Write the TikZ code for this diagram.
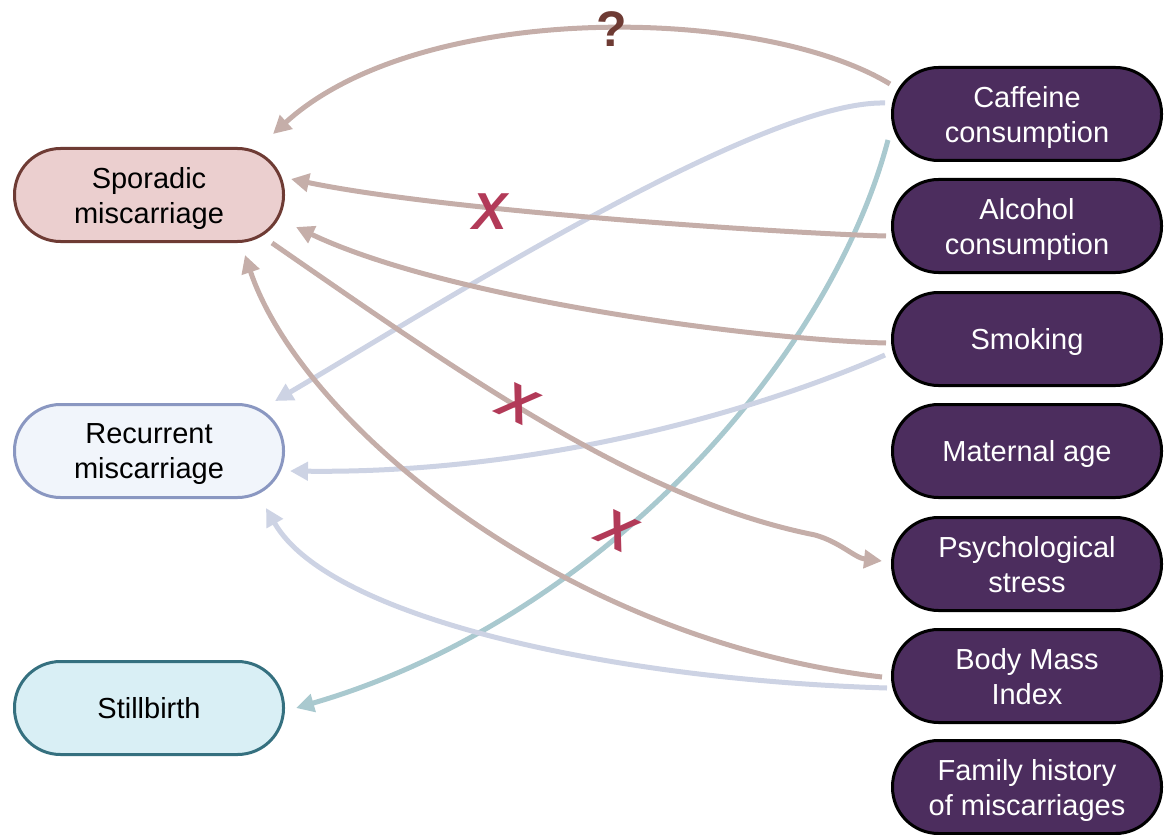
\documentclass[tikz,border=0pt]{standalone}
\usepackage{fontspec}
\setmainfont{Liberation Sans}
\usetikzlibrary{calc,arrows.meta}
\definecolor{brownln}{HTML}{C5AEA9}
\definecolor{lavln}{HTML}{CDD3E4}
\definecolor{tealln}{HTML}{A9C9CF}
\definecolor{spofill}{HTML}{EBCFCF}
\definecolor{spoline}{HTML}{6E3B34}
\definecolor{recfill}{HTML}{F1F5FB}
\definecolor{recline}{HTML}{8A97C1}
\definecolor{stifill}{HTML}{D9EFF5}
\definecolor{stiline}{HTML}{35707F}
\definecolor{facfill}{HTML}{4C2D5E}
\definecolor{xred}{HTML}{B23A58}
\definecolor{qbrown}{HTML}{6E3B34}
\begin{document}
\begin{tikzpicture}[x=0.5pt,y=-0.5pt,
  pill/.style={rounded corners=23pt, minimum width=134.5pt, minimum height=46.5pt,
    line width=1.5pt, align=center, font=\fontsize{14.5}{17.5}\selectfont, inner sep=0pt,
    text depth=0pt},
  factor/.style={pill, fill=facfill, draw=black, text=white},
  link/.style={line width=2.5pt, -{Triangle[length=9pt,width=9pt]}},
  bro/.style={link, draw=brownln},
  lav/.style={link, draw=lavln},
  tea/.style={link, draw=tealln},
  cross/.style={text=xred, font=\fontsize{26}{26}\selectfont\bfseries\itshape, inner sep=0pt},
  qmark/.style={text=qbrown, font=\fontsize{25}{25}\selectfont\bfseries, inner sep=0pt}
]
\useasboundingbox (0,0) rectangle (1165,834);

% outcome nodes
\node[pill, fill=spofill, draw=spoline] (spo) at (149,195) {Sporadic\\miscarriage};
\node[pill, fill=recfill, draw=recline] (rec) at (149,451) {Recurrent\\miscarriage};
\node[pill, fill=stifill, draw=stiline] (sti) at (149,708) {Stillbirth};

% factor nodes
\node[factor] (caf) at (1027,114) {Caffeine\\consumption};
\node[factor] (alc) at (1027,226) {Alcohol\\consumption};
\node[factor] (smk) at (1027,339) {Smoking};
\node[factor] (mat) at (1027,451) {Maternal age};
\node[factor] (psy) at (1027,564) {Psychological\\stress};
\node[factor] (bmi) at (1027,676) {Body Mass\\Index};
\node[factor] (fam) at (1027,787) {Family history\\of miscarriages};

% connectors
\draw[bro] ($(caf)+(-137,-30)$) .. controls (760,5) and (420,0) .. ($(spo)+(124,-61)$);
\draw[lav] ($(caf)+(-142,-11)$) .. controls (760,100) and (430,310) .. ($(rec)+(126,-50)$);
\draw[tea] ($(caf)+(-139,26)$) .. controls (830,360) and (600,620) .. ($(sti)+(147,0)$);
\draw[bro] ($(alc)+(-141,10)$) .. controls (800,234) and (450,212) .. ($(spo)+(142,-16)$);
\draw[bro] ($(smk)+(-141,4)$) .. controls (760,340) and (450,300) .. ($(spo)+(147,32)$);
\draw[lav] ($(smk)+(-142,16)$) .. controls (760,410) and (540,474) .. ($(rec)+(141,20)$);
\draw[bro] ($(spo)+(123,48)$) .. controls (470,380) and (640,500) .. ($(psy)+(-212,-29)$)
  .. controls (840,542) and (855,558) .. ($(psy)+(-145,-3)$);
\draw[bro] ($(bmi)+(-145,1)$) .. controls (560,640) and (300,420) .. ($(spo)+(96,60)$);
\draw[lav] ($(bmi)+(-140,12)$) .. controls (620,680) and (330,620) .. ($(rec)+(117,57)$);

% marks
\node[qmark] (q) at (612,29) {?};
\node[cross] (x1) at (490,212) {X};
\node[cross, rotate=-25] (x2) at (518,404) {X};
\node[cross, rotate=-25] (x3) at (617,531) {X};
\end{tikzpicture}
\end{document}
